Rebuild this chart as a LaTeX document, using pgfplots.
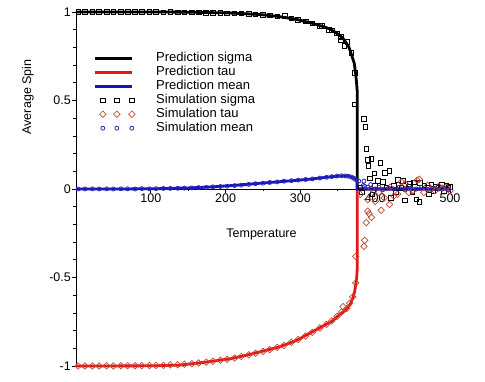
\documentclass[border=0pt]{standalone}
\usepackage{fontspec}
\setmainfont{Liberation Sans}
\usepackage{pgfplots}
\pgfplotsset{compat=1.18}

\definecolor{predred}{RGB}{228,22,22}
\definecolor{predblue}{RGB}{20,20,196}
\definecolor{simred}{RGB}{196,72,52}
\definecolor{simblue}{RGB}{44,44,176}

\pgfplotsset{
    linelegend/.style={legend image code/.code={%
        \draw[##1, line width=2.8bp] (0bp,0bp) -- (37bp,0bp); \path (60bp,0bp);}},
    marklegend/.style={legend image code/.code={%
        \draw[##1, only marks] plot coordinates {(8bp,0bp) (22bp,0bp) (37bp,0bp)};
        \path (0bp,0bp) (60bp,0bp);}},
}

\begin{document}
\begin{tikzpicture}
\useasboundingbox (-76bp,-16bp) rectangle (409bp,366bp);
\begin{axis}[
    scale only axis,
    width=374bp, height=354bp,
    at={(0,0)}, anchor=south west,
    axis lines=middle,
    axis line style={-, line width=0.7bp},
    xmin=0, xmax=500, ymin=-1, ymax=1,
    xtick={100,200,300,400,500},
    xticklabels={100,200,300,400,500},
    ytick={-1,-0.5,0,0.5,1},
    yticklabels={-1,-0.5,0,0.5,1},
    hide obscured y ticks=false,
    minor x tick num=1, minor y tick num=4,
    tick align=outside,
    major tick length=4bp, minor tick length=2.5bp,
    tick style={black, line width=0.6bp},
    font=\fontsize{12.5bp}{15bp}\selectfont,
    xticklabel style={inner sep=1bp},
    yticklabel style={inner sep=1bp},
    xlabel={Temperature},
    ylabel={Average Spin},
    xlabel style={at={(axis cs:248,-0.256)}, anchor=center},
    ylabel style={at={(rel axis cs:0,0.76)}, xshift=-48bp, rotate=90, anchor=center},
    clip=false,
    legend cell align=left,
    legend style={
        at={(0.046,0.887)}, anchor=north west,
        draw=none, fill=none, inner sep=0pt, row sep=2bp,
        font=\fontsize{13bp}{15bp}\selectfont,
        nodes={inner ysep=0pt, inner xsep=0pt, text height=9bp, text depth=3bp}
    },
]

% prediction sigma
\addplot[black, line width=2.8bp, linelegend]
coordinates {
(0,1.0) (50,1.0) (100,1.0) (150,0.999) (200,0.995) (228,0.99) (250,0.984)
(272,0.974) (295,0.958) (316,0.936) (330,0.918) (339,0.905) (348,0.882)
(356,0.856) (361,0.827) (365,0.80) (369,0.75) (372,0.71) (374.2,0.64)
(375.3,0.59) (376,0.55) (376,0) (500,0)
};
\addlegendentry{Prediction sigma}

% prediction tau
\addplot[predred, line width=2.8bp, linelegend]
coordinates {
(0,-1.0) (100,-0.999) (139,-0.995) (170,-0.98) (205,-0.96) (232,-0.935)
(272,-0.892) (295,-0.855) (316,-0.807) (330,-0.775) (343,-0.745) (352,-0.71)
(361,-0.683) (366,-0.655) (370,-0.617) (372.5,-0.58) (374,-0.54)
(375.3,-0.5) (376,-0.45) (376,0) (500,0)
};
\addlegendentry{Prediction tau}

% prediction mean
\addplot[predblue, line width=2.8bp, linelegend]
coordinates {
(0,0) (60,0.0) (112,0.002) (150,0.006) (179,0.011) (210,0.02) (245,0.032)
(280,0.044) (312,0.055) (330,0.064) (347,0.072) (358,0.074) (365,0.072)
(370,0.066) (374,0.055) (375.5,0.045) (376,0) (500,0)
};
\addlegendentry{Prediction mean}

% simulation sigma
\addplot[only marks, mark=square, mark size=2.3bp, black,
    mark options={line width=0.8bp, solid}, marklegend]
coordinates {
(3,1.0) (12,1.0) (22,1.0) (31,1.0) (41,1.0) (50,0.999) (60,1.0) (69,0.999)
(79,1.0) (88,0.999) (98,0.999) (107,0.999) (117,0.998) (126,0.999) (136,0.998)
(145,0.998) (155,0.997) (164,0.997) (174,0.996) (183,0.996) (193,0.995)
(202,0.993) (212,0.992) (221,0.991) (231,0.989) (240,0.987) (250,0.984)
(259,0.981) (269,0.976) (279,0.977) (288,0.964) (297,0.956) (307,0.946)
(316,0.936) (326,0.922) (329,0.92) (338,0.90) (342,0.895) (349,0.878)
(354,0.86) (354,0.84) (359,0.807) (363,0.83) (368,0.77) (373,0.655) (373,0.477)
(385,0.396) (387,0.352) (388,0.226) (390,0.163) (395,0.169) (391,0.131)
(407,0.148) (399,0.087) (413,0.091) (419,0.102) (393,0.061) (404,0.045)
(410,0.04) (430,0.053) (437,0.045) (446,0.03) (452,0.038) (460,0.036)
(466,0.02) (475,0.027) (481,0.015) (489,0.023) (495,0.018) (498,0.01)
(421,-0.049) (440,-0.064) (455,-0.059) (459,-0.072) (472,-0.03) (396,-0.03)
(380,0.01) (400,0.02) (415,0.01) (425,0.02) (435,0.005) (445,0.012)
(470,0.008) (485,0.005) (492,-0.01) (382,-0.02) (428,-0.02) (450,-0.015)
(500,0.012) (478,-0.01)
};
\addlegendentry{Simulation sigma}

% simulation tau
\addplot[only marks, mark=square, mark size=2.3bp, simred,
    mark options={line width=0.7bp, solid, rotate=45}, marklegend]
coordinates {
(3,-1.0) (12,-1.0) (22,-1.0) (31,-1.0) (41,-0.999) (50,-1.0) (60,-0.999)
(69,-0.998) (79,-0.999) (88,-0.998) (98,-0.997) (107,-0.996) (117,-0.996)
(126,-0.994) (136,-0.993) (145,-0.99) (155,-0.987) (164,-0.983) (174,-0.978)
(183,-0.973) (193,-0.967) (202,-0.962) (212,-0.955) (221,-0.946) (231,-0.937)
(240,-0.928) (250,-0.918) (259,-0.907) (269,-0.895) (278,-0.884) (288,-0.866)
(297,-0.85) (307,-0.83) (316,-0.81) (326,-0.785) (335,-0.765) (342,-0.745)
(349,-0.72) (355,-0.695) (357,-0.665) (362,-0.675) (366,-0.645) (370,-0.61)
(374,-0.53) (374,-0.38)
(385,-0.324) (386,-0.29) (388,-0.19) (392,-0.14) (395,-0.16) (390,-0.125)
(408,-0.12) (419,-0.087) (400,-0.07) (390,-0.06) (412,-0.05) (425,-0.04)
(430,-0.03) (445,-0.02) (459,0.055) (456,0.049) (440,0.03) (470,0.02)
(480,-0.01) (490,0.005) (500,-0.01) (395,0.0) (420,0.01) (450,-0.01)
(465,-0.02) (485,0.015) (380,-0.03) (405,-0.02) (435,0.04) (475,0.0)
(495,0.01)
};
\addlegendentry{Simulation tau}

% simulation mean
\addplot[only marks, mark=o, mark size=2bp, simblue,
    mark options={line width=0.8bp, solid}, marklegend]
coordinates {
(3,0.0) (12,0.0) (22,0.001) (31,0.0) (41,0.001) (50,0.0) (60,0.001) (69,0.001)
(79,0.0) (88,0.002) (98,0.001) (107,0.002) (117,0.003) (126,0.003)
(136,0.004) (145,0.005) (155,0.006) (164,0.008) (174,0.009) (183,0.012)
(193,0.014) (202,0.016) (212,0.019) (221,0.022) (231,0.026) (240,0.03)
(250,0.033) (259,0.037) (269,0.04) (278,0.044) (288,0.047) (297,0.05)
(307,0.054) (316,0.057) (326,0.062) (335,0.066) (342,0.07) (349,0.073)
(355,0.075) (360,0.074) (364,0.072) (368,0.068) (371,0.062) (373,0.055)
(378,0.045) (385,0.045) (384,0.02) (386,0.015) (390,0.01) (394,0.025)
(400,0.0) (405,0.01) (410,-0.005) (418,0.005) (425,0.0) (432,0.01)
(440,-0.005) (447,0.005) (455,0.0) (462,0.01) (470,-0.005) (478,0.005)
(485,0.0) (492,0.005) (498,-0.005)
};
\addlegendentry{Simulation mean}

\end{axis}
\end{tikzpicture}
\end{document}
